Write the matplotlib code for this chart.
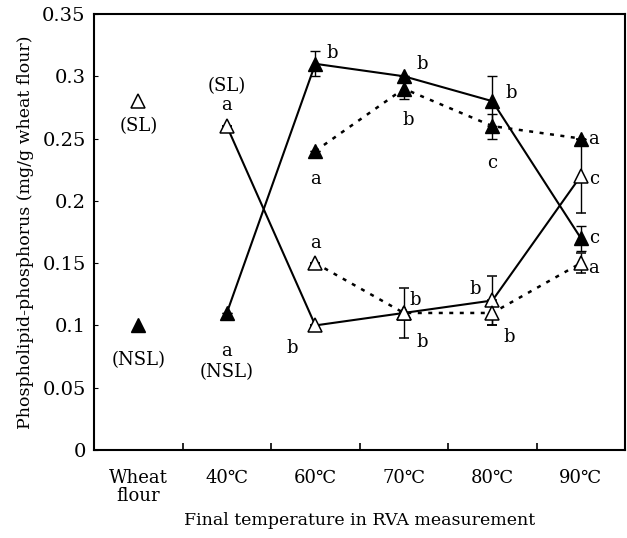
import matplotlib
matplotlib.use("Agg")
import matplotlib.pyplot as plt

plt.rcParams['font.family'] = ['DejaVu Serif', 'DejaVu Sans']

categories = ["Wheat\nflour", "40℃", "60℃", "70℃", "80℃", "90℃"]

# wheat flour (single points)
nsl_flour = 0.10
sl_flour = 0.28

# solid lines (x index 1..5)
nsl_solid = [0.11, 0.31, 0.30, 0.28, 0.17]
nsl_solid_err = [0, 0.01, 0, 0.02, 0.01]
sl_solid = [0.26, 0.10, 0.11, 0.12, 0.22]
sl_solid_err = [0, 0, 0.02, 0.02, 0.03]

# dotted lines (x index 2..5)
nsl_dot = [0.24, 0.29, 0.26, 0.25]
nsl_dot_err = [0, 0.008, 0.01, 0]
sl_dot = [0.15, 0.11, 0.11, 0.15]
sl_dot_err = [0, 0, 0.01, 0.008]

nsl_solid_letters = ["a", "b", "b", "b", "c"]
sl_solid_letters = ["a", "b", "b", "b", "c"]
nsl_dot_letters = ["a", "b", "c", "a"]
sl_dot_letters = ["a", "b", "b", "a"]

# letter offsets in pixels
nsl_solid_off = [(0, -38), (17, 11), (18, 12), (19, 8), (13, 0)]
sl_solid_off = [(0, 21), (-23, -23), (11, 13), (-17, 11), (13, -3)]
nsl_dot_off = [(0, -28), (4, -31), (0, -37), (13, 0)]
sl_dot_off = [(0, 20), (18, -29), (17, -24), (13, -5)]

fig = plt.figure(figsize=(6.27, 5.38), dpi=100)
ax = fig.add_axes([0.150, 0.1636, 0.847, 0.8104])

x_solid = [1, 2, 3, 4, 5]
x_dot = [2, 3, 4, 5]

ms = 10
eb = dict(ecolor='black', elinewidth=1, capsize=3.5, capthick=1)
dot = (0, (1.6, 2.6))

ax.errorbar(x_solid, nsl_solid, yerr=nsl_solid_err, color='black', lw=1.5,
            marker='^', ms=ms, mfc='black', mec='black', **eb, zorder=3)
ax.errorbar(x_solid, sl_solid, yerr=sl_solid_err, color='black', lw=1.5,
            marker='^', ms=ms, mfc='white', mec='black', mew=1.1, **eb, zorder=4)
ax.errorbar(x_dot, nsl_dot, yerr=nsl_dot_err, color='black', lw=1.8, ls=dot,
            marker='^', ms=ms, mfc='black', mec='black', **eb, zorder=3)
ax.errorbar(x_dot, sl_dot, yerr=sl_dot_err, color='black', lw=1.8, ls=dot,
            marker='^', ms=ms, mfc='white', mec='black', mew=1.1, **eb, zorder=4)

ax.plot([0], [nsl_flour], marker='^', ms=ms, mfc='black', mec='black', ls='none')
ax.plot([0], [sl_flour], marker='^', ms=ms, mfc='white', mec='black', mew=1.1, ls='none')

fs = 13
def letters(xs, ys, labs, offs):
    for xv, yv, lab, off in zip(xs, ys, labs, offs):
        ax.annotate(lab, (xv, yv), xytext=off, textcoords='offset pixels',
                    ha='center', va='center', fontsize=fs)

letters(x_solid, nsl_solid, nsl_solid_letters, nsl_solid_off)
letters(x_solid, sl_solid, sl_solid_letters, sl_solid_off)
letters(x_dot, nsl_dot, nsl_dot_letters, nsl_dot_off)
letters(x_dot, sl_dot, sl_dot_letters, sl_dot_off)

ax.annotate("(SL)", (0, sl_flour), xytext=(0, -25), textcoords='offset pixels',
            ha='center', va='center', fontsize=fs)
ax.annotate("(NSL)", (0, nsl_flour), xytext=(0, -35), textcoords='offset pixels',
            ha='center', va='center', fontsize=fs)
ax.annotate("(SL)", (1, sl_solid[0]), xytext=(0, 40), textcoords='offset pixels',
            ha='center', va='center', fontsize=fs)
ax.annotate("(NSL)", (1, nsl_solid[0]), xytext=(0, -59), textcoords='offset pixels',
            ha='center', va='center', fontsize=fs)

ax.set_xlim(-0.5, 5.5)
ax.set_ylim(0, 0.35)
ax.set_yticks([0, 0.05, 0.1, 0.15, 0.2, 0.25, 0.3, 0.35])
ax.set_yticklabels(["0", "0.05", "0.1", "0.15", "0.2", "0.25", "0.3", "0.35"])
ax.set_xticks([0.5, 1.5, 2.5, 3.5, 4.5])
ax.set_xticklabels([])
ax.set_xticks(range(6), minor=True)
ax.set_xticklabels(categories, minor=True, fontsize=13, linespacing=0.95)
ax.tick_params(axis='x', which='major', direction='in', length=5, width=1.2)
ax.tick_params(axis='x', which='minor', length=0, pad=14)
ax.tick_params(axis='y', direction='in', length=3, labelsize=14, pad=6)
for s in ax.spines.values():
    s.set_linewidth(1.5)

ax.set_xlabel("Final temperature in RVA measurement", fontsize=12.5)
ax.xaxis.set_label_coords(0.5, -0.161)
ax.xaxis.label.set_va('center')
ax.set_ylabel("Phospholipid-phosphorus (mg/g wheat flour)", fontsize=12.5, labelpad=6)

fig.savefig("out.png", dpi=100)
